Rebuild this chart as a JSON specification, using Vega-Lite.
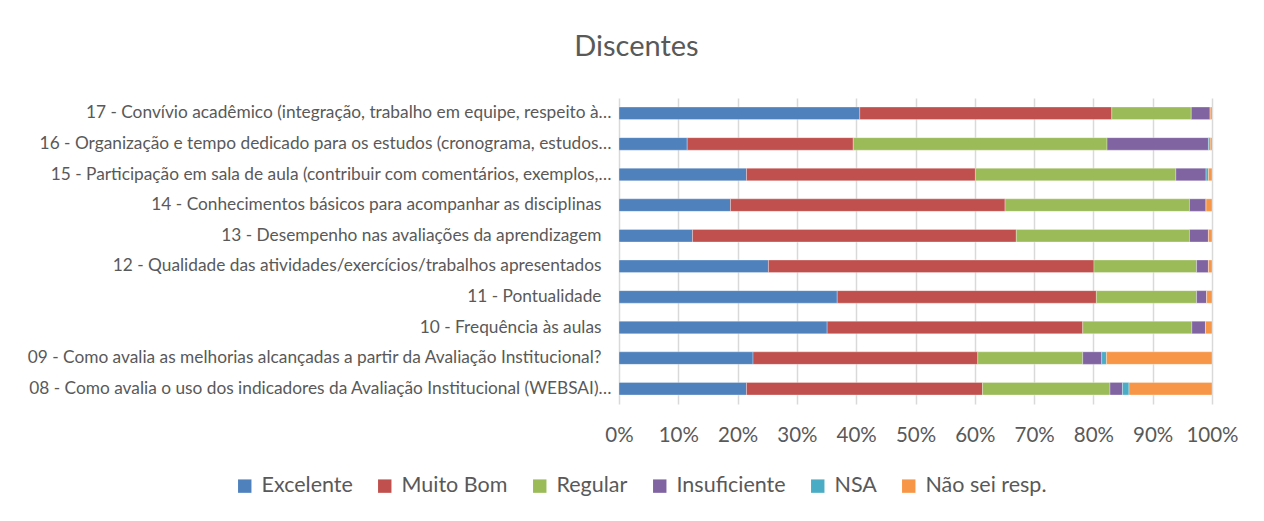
{
  "$schema": "https://vega.github.io/schema/vega-lite/v6.json",
  "autosize": {"type": "none"},
  "padding": {"left": 619, "top": 98, "right": 52, "bottom": 117},
  "width": 593,
  "height": 306,
  "background": "white",
  "title": {
    "text": "Discentes",
    "font": "Lato",
    "fontSize": 29,
    "fontWeight": "normal",
    "color": "#595959",
    "anchor": "middle",
    "dx": -279,
    "offset": 36
  },
  "data": {
    "values": [
      {"q": "17 - Convívio acadêmico (integração, trabalho em equipe, respeito à…", "cat": "Excelente", "ordem": 1, "pct": 40.6},
      {"q": "17 - Convívio acadêmico (integração, trabalho em equipe, respeito à…", "cat": "Muito Bom", "ordem": 2, "pct": 42.5},
      {"q": "17 - Convívio acadêmico (integração, trabalho em equipe, respeito à…", "cat": "Regular", "ordem": 3, "pct": 13.4},
      {"q": "17 - Convívio acadêmico (integração, trabalho em equipe, respeito à…", "cat": "Insuficiente", "ordem": 4, "pct": 3.2},
      {"q": "17 - Convívio acadêmico (integração, trabalho em equipe, respeito à…", "cat": "NSA", "ordem": 5, "pct": 0},
      {"q": "17 - Convívio acadêmico (integração, trabalho em equipe, respeito à…", "cat": "Não sei resp.", "ordem": 6, "pct": 0.3},
      {"q": "16 - Organização e tempo dedicado para os estudos (cronograma, estudos…", "cat": "Excelente", "ordem": 1, "pct": 11.5},
      {"q": "16 - Organização e tempo dedicado para os estudos (cronograma, estudos…", "cat": "Muito Bom", "ordem": 2, "pct": 28.0},
      {"q": "16 - Organização e tempo dedicado para os estudos (cronograma, estudos…", "cat": "Regular", "ordem": 3, "pct": 42.8},
      {"q": "16 - Organização e tempo dedicado para os estudos (cronograma, estudos…", "cat": "Insuficiente", "ordem": 4, "pct": 17.1},
      {"q": "16 - Organização e tempo dedicado para os estudos (cronograma, estudos…", "cat": "NSA", "ordem": 5, "pct": 0.3},
      {"q": "16 - Organização e tempo dedicado para os estudos (cronograma, estudos…", "cat": "Não sei resp.", "ordem": 6, "pct": 0.3},
      {"q": "15 - Participação em sala de aula (contribuir com comentários, exemplos,…", "cat": "Excelente", "ordem": 1, "pct": 21.5},
      {"q": "15 - Participação em sala de aula (contribuir com comentários, exemplos,…", "cat": "Muito Bom", "ordem": 2, "pct": 38.6},
      {"q": "15 - Participação em sala de aula (contribuir com comentários, exemplos,…", "cat": "Regular", "ordem": 3, "pct": 33.8},
      {"q": "15 - Participação em sala de aula (contribuir com comentários, exemplos,…", "cat": "Insuficiente", "ordem": 4, "pct": 5.1},
      {"q": "15 - Participação em sala de aula (contribuir com comentários, exemplos,…", "cat": "NSA", "ordem": 5, "pct": 0.4},
      {"q": "15 - Participação em sala de aula (contribuir com comentários, exemplos,…", "cat": "Não sei resp.", "ordem": 6, "pct": 0.6},
      {"q": "14 - Conhecimentos básicos para acompanhar as disciplinas", "cat": "Excelente", "ordem": 1, "pct": 18.8},
      {"q": "14 - Conhecimentos básicos para acompanhar as disciplinas", "cat": "Muito Bom", "ordem": 2, "pct": 46.3},
      {"q": "14 - Conhecimentos básicos para acompanhar as disciplinas", "cat": "Regular", "ordem": 3, "pct": 31.1},
      {"q": "14 - Conhecimentos básicos para acompanhar as disciplinas", "cat": "Insuficiente", "ordem": 4, "pct": 2.8},
      {"q": "14 - Conhecimentos básicos para acompanhar as disciplinas", "cat": "NSA", "ordem": 5, "pct": 0},
      {"q": "14 - Conhecimentos básicos para acompanhar as disciplinas", "cat": "Não sei resp.", "ordem": 6, "pct": 1.0},
      {"q": "13 - Desempenho nas avaliações da aprendizagem", "cat": "Excelente", "ordem": 1, "pct": 12.4},
      {"q": "13 - Desempenho nas avaliações da aprendizagem", "cat": "Muito Bom", "ordem": 2, "pct": 54.6},
      {"q": "13 - Desempenho nas avaliações da aprendizagem", "cat": "Regular", "ordem": 3, "pct": 29.2},
      {"q": "13 - Desempenho nas avaliações da aprendizagem", "cat": "Insuficiente", "ordem": 4, "pct": 3.2},
      {"q": "13 - Desempenho nas avaliações da aprendizagem", "cat": "NSA", "ordem": 5, "pct": 0},
      {"q": "13 - Desempenho nas avaliações da aprendizagem", "cat": "Não sei resp.", "ordem": 6, "pct": 0.6},
      {"q": "12 - Qualidade das atividades/exercícios/trabalhos apresentados", "cat": "Excelente", "ordem": 1, "pct": 25.2},
      {"q": "12 - Qualidade das atividades/exercícios/trabalhos apresentados", "cat": "Muito Bom", "ordem": 2, "pct": 54.9},
      {"q": "12 - Qualidade das atividades/exercícios/trabalhos apresentados", "cat": "Regular", "ordem": 3, "pct": 17.3},
      {"q": "12 - Qualidade das atividades/exercícios/trabalhos apresentados", "cat": "Insuficiente", "ordem": 4, "pct": 2.0},
      {"q": "12 - Qualidade das atividades/exercícios/trabalhos apresentados", "cat": "NSA", "ordem": 5, "pct": 0},
      {"q": "12 - Qualidade das atividades/exercícios/trabalhos apresentados", "cat": "Não sei resp.", "ordem": 6, "pct": 0.6},
      {"q": "11 - Pontualidade", "cat": "Excelente", "ordem": 1, "pct": 36.8},
      {"q": "11 - Pontualidade", "cat": "Muito Bom", "ordem": 2, "pct": 43.7},
      {"q": "11 - Pontualidade", "cat": "Regular", "ordem": 3, "pct": 16.9},
      {"q": "11 - Pontualidade", "cat": "Insuficiente", "ordem": 4, "pct": 1.7},
      {"q": "11 - Pontualidade", "cat": "NSA", "ordem": 5, "pct": 0},
      {"q": "11 - Pontualidade", "cat": "Não sei resp.", "ordem": 6, "pct": 0.9},
      {"q": "10 - Frequência às aulas", "cat": "Excelente", "ordem": 1, "pct": 35.1},
      {"q": "10 - Frequência às aulas", "cat": "Muito Bom", "ordem": 2, "pct": 43.1},
      {"q": "10 - Frequência às aulas", "cat": "Regular", "ordem": 3, "pct": 18.4},
      {"q": "10 - Frequência às aulas", "cat": "Insuficiente", "ordem": 4, "pct": 2.3},
      {"q": "10 - Frequência às aulas", "cat": "NSA", "ordem": 5, "pct": 0},
      {"q": "10 - Frequência às aulas", "cat": "Não sei resp.", "ordem": 6, "pct": 1.1},
      {"q": "09 - Como avalia as melhorias alcançadas a partir da Avaliação Institucional?", "cat": "Excelente", "ordem": 1, "pct": 22.6},
      {"q": "09 - Como avalia as melhorias alcançadas a partir da Avaliação Institucional?", "cat": "Muito Bom", "ordem": 2, "pct": 37.9},
      {"q": "09 - Como avalia as melhorias alcançadas a partir da Avaliação Institucional?", "cat": "Regular", "ordem": 3, "pct": 17.7},
      {"q": "09 - Como avalia as melhorias alcançadas a partir da Avaliação Institucional?", "cat": "Insuficiente", "ordem": 4, "pct": 3.2},
      {"q": "09 - Como avalia as melhorias alcançadas a partir da Avaliação Institucional?", "cat": "NSA", "ordem": 5, "pct": 0.8},
      {"q": "09 - Como avalia as melhorias alcançadas a partir da Avaliação Institucional?", "cat": "Não sei resp.", "ordem": 6, "pct": 17.8},
      {"q": "08 - Como avalia o uso dos indicadores da Avaliação Institucional (WEBSAI)…", "cat": "Excelente", "ordem": 1, "pct": 21.5},
      {"q": "08 - Como avalia o uso dos indicadores da Avaliação Institucional (WEBSAI)…", "cat": "Muito Bom", "ordem": 2, "pct": 39.8},
      {"q": "08 - Como avalia o uso dos indicadores da Avaliação Institucional (WEBSAI)…", "cat": "Regular", "ordem": 3, "pct": 21.5},
      {"q": "08 - Como avalia o uso dos indicadores da Avaliação Institucional (WEBSAI)…", "cat": "Insuficiente", "ordem": 4, "pct": 2.1},
      {"q": "08 - Como avalia o uso dos indicadores da Avaliação Institucional (WEBSAI)…", "cat": "NSA", "ordem": 5, "pct": 1.1},
      {"q": "08 - Como avalia o uso dos indicadores da Avaliação Institucional (WEBSAI)…", "cat": "Não sei resp.", "ordem": 6, "pct": 14.0}
    ]
  },
  "mark": {"type": "bar", "stroke": "white", "strokeWidth": 0.5, "strokeOpacity": 0.6},
  "encoding": {
    "y": {
      "field": "q",
      "type": "nominal",
      "sort": null,
      "scale": {"paddingInner": 0.59, "paddingOuter": 0.295},
      "axis": {
        "title": null,
        "ticks": false,
        "domain": false,
        "labelFont": "Lato",
        "labelFontSize": 17.3,
        "labelColor": "#595959",
        "labelPadding": {"condition": {"test": "indexof(datum.value, '…') < 0", "value": 18}, "value": 8},
        "labelLimit": 700
      }
    },
    "x": {
      "field": "pct",
      "type": "quantitative",
      "stack": "normalize",
      "scale": {"domain": [0, 1]},
      "axis": {
        "title": null,
        "format": ".0%",
        "values": [0, 0.1, 0.2, 0.3, 0.4, 0.5, 0.6, 0.7, 0.8, 0.9, 1],
        "labelOverlap": false,
        "labelFlush": false,
        "ticks": false,
        "domain": false,
        "grid": true,
        "gridColor": "#D9D9D9",
        "gridWidth": 1.5,
        "labelFont": "Lato",
        "labelFontSize": 20.5,
        "labelColor": "#595959",
        "labelPadding": 21
      }
    },
    "order": {"field": "ordem", "type": "quantitative", "sort": "ascending"},
    "color": {
      "field": "cat",
      "type": "nominal",
      "sort": ["Excelente", "Muito Bom", "Regular", "Insuficiente", "NSA", "Não sei resp."],
      "scale": {
        "domain": ["Excelente", "Muito Bom", "Regular", "Insuficiente", "NSA", "Não sei resp."],
        "range": ["#4F81BD", "#C0504D", "#9BBB59", "#8064A2", "#4BACC6", "#F79646"]
      },
      "legend": {
        "title": null,
        "orient": "none",
        "direction": "horizontal",
        "legendX": -385,
        "legendY": 377,
        "symbolType": "square",
        "symbolSize": 180,
        "symbolStrokeWidth": 0,
        "symbolOpacity": 1,
        "labelFont": "Lato",
        "labelFontSize": 21.5,
        "labelColor": "#595959",
        "labelOffset": 6,
        "columnPadding": 21
      }
    }
  },
  "config": {"view": {"stroke": null}}
}
